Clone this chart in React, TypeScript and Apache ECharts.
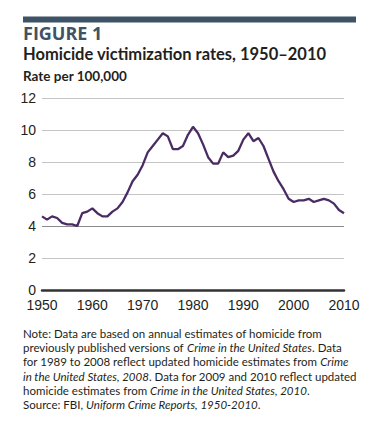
import React, { useEffect, useRef } from "react";
import * as echarts from "echarts";

const years: number[] = [
  1950, 1951, 1952, 1953, 1954, 1955, 1956, 1957, 1958, 1959,
  1960, 1961, 1962, 1963, 1964, 1965, 1966, 1967, 1968, 1969,
  1970, 1971, 1972, 1973, 1974, 1975, 1976, 1977, 1978, 1979,
  1980, 1981, 1982, 1983, 1984, 1985, 1986, 1987, 1988, 1989,
  1990, 1991, 1992, 1993, 1994, 1995, 1996, 1997, 1998, 1999,
  2000, 2001, 2002, 2003, 2004, 2005, 2006, 2007, 2008, 2009, 2010,
];
const rates: number[] = [
  4.6, 4.4, 4.6, 4.5, 4.2, 4.1, 4.1, 4.0, 4.8, 4.9,
  5.1, 4.8, 4.6, 4.6, 4.9, 5.1, 5.5, 6.1, 6.8, 7.2,
  7.8, 8.6, 9.0, 9.4, 9.8, 9.6, 8.8, 8.8, 9.0, 9.7,
  10.2, 9.8, 9.1, 8.3, 7.9, 7.9, 8.6, 8.3, 8.4, 8.7,
  9.4, 9.8, 9.3, 9.5, 9.0, 8.2, 7.4, 6.8, 6.3, 5.7,
  5.5, 5.6, 5.6, 5.7, 5.5, 5.6, 5.7, 5.6, 5.4, 5.0, 4.8,
];
const yTicks = { min: 0, max: 12, interval: 2 };
const xTicks = { min: 1950, max: 2010, interval: 10 };

const figureLabel = "FIGURE 1";
const title = "Homicide victimization rates, 1950\u20132010";
const subtitle = "Rate per 100,000";
const noteLines: string[] = [
  "Note: Data are based on annual estimates of homicide from",
  "previously published versions of {i|Crime in the United States}. Data",
  "for 1989 to 2008 reflect updated homicide estimates from {i|Crime}",
  "{i|in the United States, 2008}. Data for 2009 and 2010 reflect updated",
  "homicide estimates from {i|Crime in the United States, 2010}.",
];
const sourceLine = "Source: FBI, {i|Uniform Crime Reports, 1950-2010}.";

export default function App() {
  const ref = useRef<HTMLDivElement>(null);
  useEffect(() => {
    if (!ref.current) return;
    const chart = echarts.init(ref.current, null, { renderer: "svg" });
    const textColor = "#231f20";
    const noteFont = "Lato, 'Open Sans', sans-serif";
    const tickFont = "'Liberation Sans Narrow', 'Liberation Sans', sans-serif";
    const noteStyle = (text: string, y: number) => ({
      type: "text",
      left: 23,
      top: y,
      style: {
        text,
        fill: textColor,
        fontSize: 11.5,
        fontFamily: noteFont,
        rich: {
          i: { fontStyle: "italic", fontSize: 11.5, fontFamily: noteFont, fill: textColor },
        },
      },
    });
    const lineTops = [327, 341.5, 355.5, 370, 384];
    chart.setOption({
      animation: false,
      grid: { left: 42, right: 27, top: 98, bottom: 148, containLabel: false },
      xAxis: {
        type: "value",
        min: xTicks.min,
        max: xTicks.max,
        interval: xTicks.interval,
        axisLine: { show: true, onZero: false, lineStyle: { color: "#333", width: 2.5 } },
        axisTick: { show: false },
        splitLine: { show: false },
        axisLabel: {
          color: textColor,
          fontSize: 14,
          lineHeight: 13,
          fontFamily: tickFont,
          margin: 8,
          formatter: (v: number) => String(v),
        },
      },
      yAxis: {
        type: "value",
        min: yTicks.min,
        max: yTicks.max,
        interval: yTicks.interval,
        axisLine: { show: false },
        axisTick: { show: false },
        splitLine: {
          show: true,
          lineStyle: {
            color: ["#333", "#c4c4c4", "#8c8c8c", "#c4c4c4", "#c4c4c4", "#c4c4c4", "#c4c4c4"],
            width: 1,
          },
        },
        axisLabel: {
          color: textColor,
          fontSize: 14,
          lineHeight: 11,
          fontFamily: tickFont,
          margin: 6,
        },
      },
      series: [
        {
          type: "line",
          data: years.map((y, i) => [y, rates[i]]),
          showSymbol: false,
          symbol: "none",
          lineStyle: { color: "#4a2b63", width: 2.3 },
          z: 5,
        },
      ],
      graphic: [
        {
          type: "rect",
          shape: { x: 23, y: 16.5, width: 333, height: 6 },
          style: { fill: "#3f5366" },
        },
        {
          type: "text",
          left: 23,
          top: 24,
          style: {
            text: figureLabel,
            fill: "#3f5366",
            fontSize: 18,
            fontWeight: "bold",
            fontFamily: "'Open Sans', sans-serif",
          },
        },
        {
          type: "text",
          left: 23,
          top: 45.5,
          style: {
            text: title,
            fill: textColor,
            fontSize: 16.5,
            fontWeight: "bold",
            fontFamily: "Lato, sans-serif",
          },
        },
        {
          type: "text",
          left: 23,
          top: 68.5,
          style: {
            text: subtitle,
            fill: textColor,
            fontSize: 13.5,
            fontWeight: "bold",
            fontFamily: "Lato, sans-serif",
          },
        },
        ...noteLines.map((t, i) => noteStyle(t, lineTops[i])),
        noteStyle(sourceLine, 398),
      ],
    });
    return () => chart.dispose();
  }, []);
  return <div ref={ref} style={{ width: 371, height: 438, position: "absolute", left: 0, top: 0 }} />;
}
